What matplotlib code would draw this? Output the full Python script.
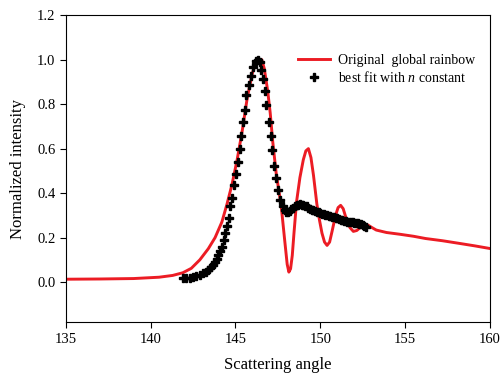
import matplotlib
matplotlib.use("Agg")
import matplotlib.pyplot as plt

plt.rcParams['font.family'] = ['Liberation Serif', 'DejaVu Serif']
plt.rcParams['mathtext.fontset'] = 'custom'
plt.rcParams['mathtext.it'] = 'Liberation Serif:italic'
plt.rcParams['mathtext.rm'] = 'Liberation Serif'

# original global rainbow (red line)
red_x = [135.0, 137.0, 139.0, 140.5, 141.3, 141.9, 142.4, 142.9, 143.4, 143.8, 144.2,
         144.5, 144.8, 145.1, 145.4, 145.7, 146.0, 146.2, 146.4, 146.55, 146.7,
         146.9, 147.05, 147.2, 147.4, 147.7, 147.9, 148.05, 148.15, 148.25, 148.35,
         148.45, 148.6, 148.8, 149.0, 149.15, 149.3, 149.45, 149.6, 149.8, 149.95,
         150.1, 150.25, 150.4, 150.55, 150.7, 150.9, 151.05, 151.2, 151.35, 151.55,
         151.75, 151.95, 152.15, 152.35, 152.55, 152.8, 153.05, 153.3, 153.9, 154.7,
         155.5, 156.2, 157.2, 158.2, 159.1, 160.0]
red_y = [0.013, 0.014, 0.016, 0.022, 0.03, 0.042, 0.062, 0.10, 0.15, 0.20, 0.27,
         0.35, 0.44, 0.55, 0.68, 0.83, 0.94, 0.985, 1.0, 1.0, 0.96,
         0.86, 0.76, 0.63, 0.49, 0.34, 0.19, 0.08, 0.045, 0.06, 0.12,
         0.22, 0.36, 0.47, 0.55, 0.59, 0.60, 0.56, 0.48, 0.35, 0.28,
         0.22, 0.18, 0.165, 0.18, 0.23, 0.30, 0.335, 0.345, 0.33, 0.28,
         0.245, 0.228, 0.232, 0.245, 0.255, 0.257, 0.245, 0.234, 0.223, 0.215,
         0.206, 0.196, 0.186, 0.174, 0.163, 0.151]

# best fit with n constant (black markers)
fit_x = [141.9, 142.1, 142.3, 142.5, 142.7, 142.9, 143.1, 143.25, 143.4, 143.55,
         143.7, 143.8, 143.9, 144.0, 144.1, 144.2, 144.3, 144.4, 144.5, 144.6,
         144.7, 144.8, 144.9, 145.05, 145.15, 145.25, 145.35, 145.45, 145.55, 145.65,
         145.78, 145.9, 146.04, 146.19, 146.33, 146.45, 146.53, 146.62, 146.72, 146.82,
         146.96, 147.08, 147.15, 147.27, 147.37, 147.51, 147.65, 147.78, 147.9,
         148.0, 148.1, 148.2, 148.3, 148.4, 148.5, 148.6, 148.7, 148.8, 148.9,
         149.0, 149.1, 149.2, 149.3, 149.4, 149.5, 149.6, 149.7, 149.8, 149.9,
         150.0, 150.1, 150.2, 150.3, 150.4, 150.5, 150.6, 150.7, 150.8, 150.9,
         151.0, 151.1, 151.2, 151.3, 151.4, 151.5, 151.6, 151.7, 151.8, 151.9,
         152.0, 152.1, 152.2, 152.3, 152.4, 152.5, 152.6, 152.7]
fit_y = [0.017, 0.018, 0.019, 0.022, 0.027, 0.033, 0.04, 0.047, 0.056, 0.066,
         0.077, 0.09, 0.105, 0.122, 0.14, 0.16, 0.19, 0.22, 0.25, 0.29,
         0.34, 0.38, 0.435, 0.485, 0.54, 0.60, 0.655, 0.72, 0.775, 0.84,
         0.885, 0.925, 0.965, 0.995, 1.0, 0.99, 0.953, 0.912, 0.858, 0.796,
         0.72, 0.658, 0.593, 0.521, 0.469, 0.413, 0.368, 0.34, 0.322,
         0.316, 0.316, 0.32, 0.327, 0.333, 0.34, 0.345, 0.348, 0.349, 0.348,
         0.346, 0.343, 0.34, 0.335, 0.33, 0.326, 0.322, 0.318, 0.315, 0.313,
         0.311, 0.308, 0.306, 0.303, 0.301, 0.298, 0.296, 0.294, 0.292, 0.29,
         0.287, 0.284, 0.281, 0.279, 0.276, 0.274, 0.272, 0.27, 0.269, 0.268,
         0.267, 0.266, 0.264, 0.262, 0.26, 0.257, 0.253, 0.248]

fig = plt.figure(figsize=(5.02, 3.79), dpi=100)
ax = fig.add_axes([0.131, 0.150, 0.845, 0.810])

ax.plot(red_x, red_y, color='#ec1c24', linewidth=2.1, label='Original  global rainbow', zorder=2)
ax.plot(fit_x, fit_y, linestyle='none', marker='P', markersize=6.3, color='black',
        label='best fit with $n$ constant', zorder=3)

ax.set_xlim(135, 160)
ax.set_ylim(-0.18, 1.2)
ax.set_xticks([135, 140, 145, 150, 155, 160])
ax.set_yticks([0.0, 0.2, 0.4, 0.6, 0.8, 1.0, 1.2])
ax.set_yticklabels([f"{v:.1f}" for v in [0.0, 0.2, 0.4, 0.6, 0.8, 1.0, 1.2]])
ax.tick_params(direction='out', length=4, width=0.8, labelsize=10.5, top=False, right=False)
for s in ax.spines.values():
    s.set_linewidth(0.8)

ax.set_xlabel("Scattering angle", fontsize=12, labelpad=8)
ax.set_ylabel("Normalized intensity", fontsize=12, labelpad=8)

ax.legend(loc='upper left', bbox_to_anchor=(0.525, 0.905), frameon=False, fontsize=10,
          handlelength=2.3, handletextpad=0.6, borderpad=0.2, labelspacing=0.2)

fig.savefig("out.png", dpi=100)
